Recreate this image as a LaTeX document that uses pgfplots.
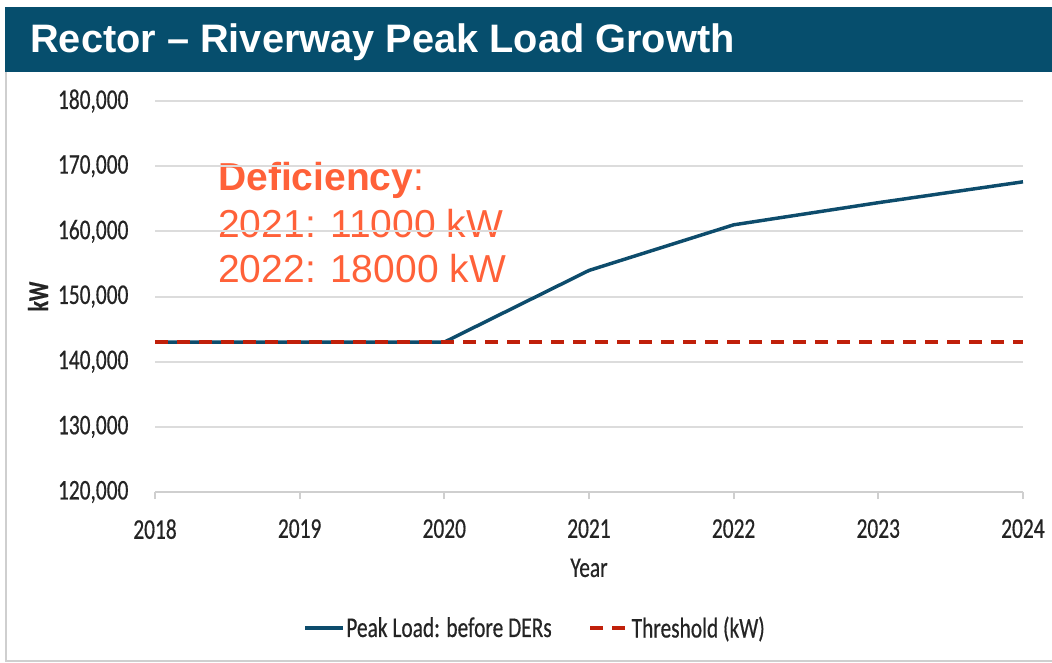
\documentclass[border=0pt]{standalone}
\usepackage{fontspec}
\setmainfont{Liberation Sans}
\newfontfamily\chartfont[FakeStretch=0.75, FakeBold=0.5]{Carlito}
\usepackage{pgfplots}
\pgfplotsset{compat=1.18}
\definecolor{banner}{HTML}{064E6D}
\definecolor{loadBlue}{HTML}{0D4C6C}
\definecolor{thrRed}{HTML}{C0200A}
\definecolor{defOrange}{HTML}{FF6139}
\definecolor{gridL}{HTML}{DCDCDC}
\definecolor{frameL}{HTML}{CFCFCF}
\definecolor{inkP}{HTML}{242424}
\newcommand{\chartsz}{\chartfont\fontsize{21.4pt}{24pt}\selectfont}
\newcommand{\notesz}{\fontsize{29.25pt}{34.5pt}\selectfont}

\begin{document}
\begin{tikzpicture}
\useasboundingbox (0,0) rectangle (789pt,496.5pt);
% banner and frame
\fill[banner] (3.75pt,442.5pt) rectangle (789pt,491.25pt);
\draw[frameL, line width=1.5pt] (4.5pt,442.5pt) -- (4.5pt,0.75pt) -- (789pt,0.75pt);
\node[anchor=base west, text=white, inner sep=0pt,
      font=\bfseries\fontsize{29.8pt}{30pt}\selectfont] at (22.5pt,456.75pt)
  {Rector – Riverway Peak Load Growth};
% deficiency note
\node[anchor=base west, inner sep=0pt, text=defOrange, font=\notesz] at (163.5pt,354pt)
  {\textbf{Deficiency}:};
\node[anchor=base west, inner sep=0pt, text=defOrange, font=\notesz] at (163.5pt,318.75pt)
  {2021: 11000 kW};
\node[anchor=base west, inner sep=0pt, text=defOrange, font=\notesz] at (163.5pt,285pt)
  {2022: 18000 kW};

\begin{axis}[
  at={(116.25pt,127.5pt)}, anchor=south west,
  scale only axis, width=651pt, height=293.25pt,
  xmin=2018, xmax=2024, ymin=120000, ymax=180000,
  xtick={2018,2019,...,2024}, ytick={120000,130000,...,180000},
  scaled y ticks=false, clip=false,
  axis lines*=left, axis line style={-},
  x axis line style={frameL, line width=1.5pt},
  y axis line style={draw=none},
  ymajorgrids, grid style={gridL, line width=1.5pt},
  tick align=outside, major tick length=5.25pt,
  x tick style={frameL, line width=1.5pt}, y tick style={draw=none},
  /pgf/number format/assume math mode=true,
  /pgf/number format/fixed,
  /pgf/number format/1000 sep={,},
  ticklabel style={font=\chartsz, text=inkP, inner sep=0pt},
  xticklabel style={/pgf/number format/1000 sep={}, anchor=north, yshift=-15pt},
  yticklabel style={anchor=east, xshift=-14.5pt},
  xlabel={Year}, ylabel={\bfseries kW},
  xlabel style={font=\chartsz, text=inkP, at={(axis description cs:0.5,-0.194)}, anchor=center},
  ylabel style={font=\chartsz\bfseries, text=inkP, at={(axis description cs:-0.1348,0.5)}, anchor=center},
  legend columns=2,
  legend style={at={(axis description cs:0.438,-0.348)}, anchor=center,
    draw=none, fill=none, font=\chartsz, text=inkP, inner sep=0pt,
    nodes={inner sep=1.5pt},
    /tikz/every even column/.append style={column sep=26pt}},
  legend cell align=left,
  legend image code/.code={\draw[#1] (0pt,0pt) -- (28pt,0pt);},
]
\addplot[loadBlue, line width=2.6pt] coordinates {
  (2018,143000) (2019,143000) (2020,143000) (2021,154000)
  (2022,161000) (2023,164400) (2024,167600)};
\addlegendentry{Peak Load: before DERs}
\addplot[thrRed, line width=3pt, dash pattern=on 9.75pt off 6.75pt] coordinates {
  (2018,143000) (2019,143000) (2020,143000) (2021,143000)
  (2022,143000) (2023,143000) (2024,143000)};
\addlegendentry{Threshold (kW)}
\end{axis}
\end{tikzpicture}
\end{document}
